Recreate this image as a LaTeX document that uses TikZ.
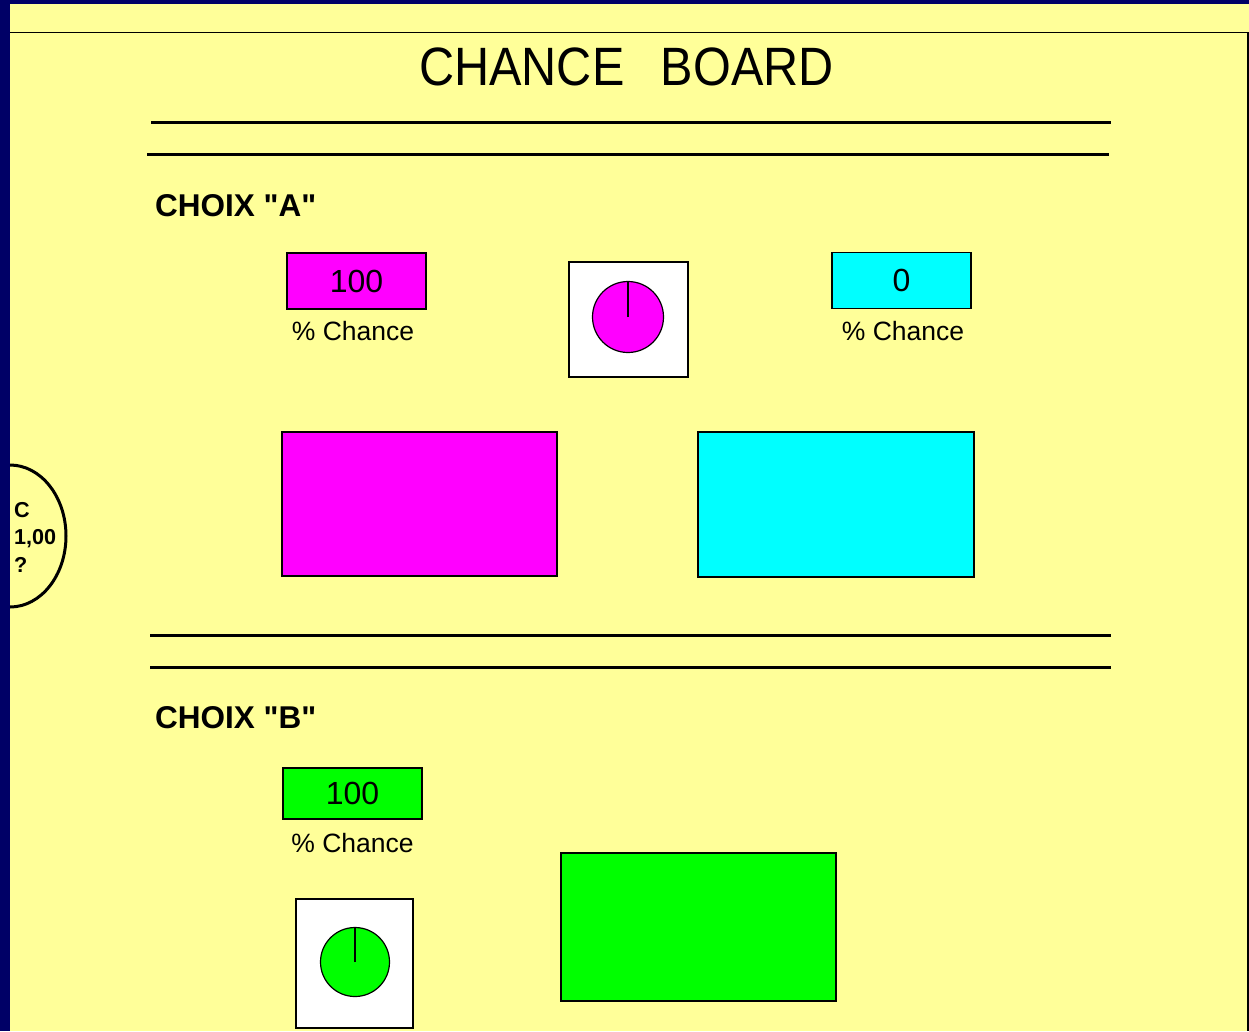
\documentclass[tikz,border=0pt]{standalone}
\usepackage{fontspec}
\setmainfont{Liberation Sans}[Ligatures=TeXOff]
\usetikzlibrary{shapes.geometric}
\definecolor{navy}{RGB}{0,0,102}
\definecolor{paper}{RGB}{255,255,153}
\definecolor{pink}{RGB}{255,0,255}
\definecolor{aqua}{RGB}{0,255,255}
\definecolor{lime}{RGB}{0,255,0}
\tikzset{
  valbox/.style={draw, line width=1.2pt, minimum width=139pt, minimum height=56pt, inner sep=0pt, font=\fontsize{32}{36}\selectfont},
  chancelbl/.style={anchor=base, inner sep=0pt, font=\fontsize{26.5}{30}\selectfont},
  choixlbl/.style={anchor=base west, inner sep=0pt, font=\bfseries\fontsize{31.5}{36}\selectfont},
  bigbox/.style={draw, line width=1.2pt, inner sep=0pt},
  piebox/.style={draw, fill=white, line width=1.6pt, inner sep=0pt},
  pie/.style={circle, draw, line width=1.2pt, minimum size=71pt, inner sep=0pt},
  sepline/.style={line width=3pt}
}
\begin{document}
\begin{tikzpicture}[x=1pt, y=-1pt]
    \useasboundingbox (0,0) rectangle (1249,1031);
    % slide background
    \fill[navy] (0,0) rectangle (1249,1031);
    \fill[paper] (10,4) rectangle (1249,1031);
    \draw[line width=1.7pt] (10,32.5) -- (1247.8,32.5) -- (1247.8,1031);
    \node[anchor=base, inner sep=0pt] (title) at (626.5,85) {\fontsize{54}{60}\selectfont\scalebox{0.9}[1]{CHANCE\hspace{0.75em}BOARD}};
    \draw[sepline] (151,122) -- (1111,122);
    \draw[sepline] (147,154) -- (1109,154);
    % choix A
    \node[choixlbl] (choixA) at (155,216) {CHOIX "A"};
    \node[valbox, fill=pink] (valA) at (356.5,281) {100};
    \node[chancelbl] (chanceA) at (353,340) {\% Chance};
    \node[piebox, minimum width=119pt, minimum height=115pt] (pieboxA) at (628.5,319.5) {};
    \node[pie, fill=pink] (pieA) at (628,317) {};
    \draw[line width=1.8pt] (pieA.center) -- (pieA.north);
    \node[valbox, fill=aqua] (valA0) at (901.5,280.5) {0};
    \node[chancelbl] (chanceA0) at (903,340) {\% Chance};
    \node[bigbox, fill=pink, minimum width=275pt, minimum height=144pt] (gainA) at (419.5,504) {};
    \node[bigbox, fill=aqua, minimum width=276pt, minimum height=145pt] (gainA0) at (836,504.5) {};
    \draw[sepline] (150,635) -- (1111,635);
    \draw[sepline] (150,667) -- (1111,667);
    % choix B
    \node[choixlbl] (choixB) at (155,728) {CHOIX "B"};
    \node[valbox, fill=lime, minimum height=51pt] (valB) at (352.5,793.5) {100};
    \node[chancelbl] (chanceB) at (352.5,852) {\% Chance};
    \node[piebox, minimum width=117pt, minimum height=129pt] (pieboxB) at (354.5,963.5) {};
    \node[pie, fill=lime, minimum size=69pt] (pieB) at (355,962) {};
    \draw[line width=1.8pt] (pieB.center) -- (pieB.north);
    \node[bigbox, fill=lime, minimum width=275pt, minimum height=148pt] (gainB) at (698.5,927) {};
    % half oval on the left edge
    \node[ellipse, draw, line width=3pt, minimum width=112pt, minimum height=142pt] (tab) at (10,536) {};
    \fill[navy] (0,440) rectangle (10,630);
    \node[anchor=west, align=left, inner sep=0pt, font=\bfseries\fontsize{21.6}{27.5}\selectfont] (tabtxt) at (14,537) {C\\1,00\\?};
\end{tikzpicture}
\end{document}
